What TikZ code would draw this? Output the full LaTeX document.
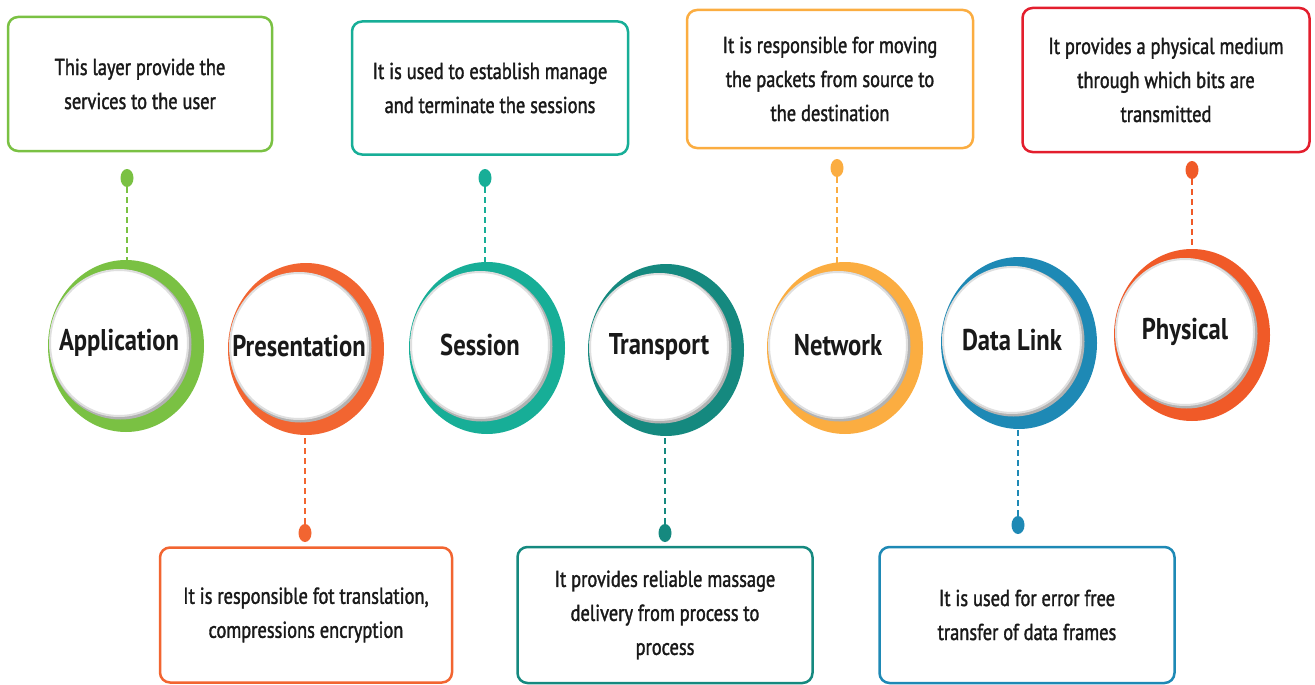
\documentclass[tikz,border=0pt]{standalone}
\usepackage{fontspec}
\setmainfont{PT Sans}[FakeStretch=0.82]
\newfontfamily\notefont{PT Sans}[FakeStretch=0.8, FakeBold=1.5]
\usetikzlibrary{positioning,shapes.geometric,backgrounds,calc}

\definecolor{appcol}{HTML}{7AC143}
\definecolor{precol}{HTML}{F26531}
\definecolor{sescol}{HTML}{17AE97}
\definecolor{tracol}{HTML}{15897F}
\definecolor{netcol}{HTML}{FBAD41}
\definecolor{dlcol}{HTML}{1E89B5}
\definecolor{phycol}{HTML}{F05A28}
\definecolor{phybox}{HTML}{E31E2D}

% coloured crescent and grey rim behind a layer disc
\newcommand{\ring}[2]{%
  \begin{scope}[on background layer]
    \fill[#2] ($(#1)+(7,3)$) ellipse [x radius=78, y radius=86];
    \fill[gray!60] ($(#1)+(1.5,1.5)$) ellipse [x radius=71, y radius=75];
  \end{scope}}

\tikzset{
  osi/.style={ellipse, minimum width=138pt, minimum height=146pt,
    inner xsep=-30pt, inner ysep=0pt,
    fill=white, draw=gray!25, line width=2pt, text=black!90,
    font=\fontsize{30}{32}\selectfont\bfseries},
  infobox/.style={draw=#1, line width=2.5pt, rounded corners=10pt, fill=white,
    align=center, text=black!90, font=\fontsize{23}{34}\notefont},
  knob/.style={ellipse, fill=#1, minimum width=13pt, minimum height=18pt, inner sep=0pt},
  dashlink/.style={draw=#1, line width=2.5pt, dash pattern=on 6pt off 4pt}
}

\begin{document}
\begin{tikzpicture}[x=1pt,y=-1pt]
  \useasboundingbox (0,0) rectangle (1315,685);

  % the seven layers
  \node[osi] (app) at (119,343) {Application};
  \node[osi] (pre) at (299,346) {Presentation};
  \node[osi] (ses) at (480,345) {Session};
  \node[osi] (tra) at (659,347) {Transport};
  \node[osi] (net) at (838,345) {Network};
  \node[osi] (dl) at (1012,340) {Data Link};
  \node[osi] (phy) at (1185,332) {Physical};

  % descriptions
  \node[infobox=appcol, minimum width=264pt, minimum height=134pt] (appnote) at (140,84)
    {This layer provide the\\services to the user};
  \node[infobox=sescol, minimum width=276pt, minimum height=133pt] (sesnote) at (490,88)
    {It is used to establish manage\\and terminate the sessions};
  \node[infobox=netcol, minimum width=286pt, minimum height=138pt] (netnote) at (830,79)
    {It is responsible for moving\\the packets from source to\\the destination};
  \node[infobox=phybox, minimum width=287pt, minimum height=144pt] (phynote) at (1166,80)
    {It provides a physical medium\\through which bits are\\transmitted};
  \node[infobox=precol, minimum width=292pt, minimum height=135pt] (prenote) at (306,615)
    {It is responsible fot translation,\\compressions encryption};
  \node[infobox=tracol, minimum width=295pt, minimum height=136pt] (tranote) at (665,615)
    {It provides reliable massage\\delivery from process to\\process};
  \node[infobox=dlcol, minimum width=295pt, minimum height=136pt] (dlnote) at (1027,615)
    {It is used for error free\\transfer of data frames};

  % pins
  \node[knob=appcol] (apppin) at (127,178) {};
  \node[knob=sescol] (sespin) at (485,178) {};
  \node[knob=netcol] (netpin) at (837,168) {};
  \node[knob=phycol] (phypin) at (1192,170) {};
  \node[knob=precol] (prepin) at (305,533) {};
  \node[knob=tracol] (trapin) at (665,533) {};
  \node[knob=dlcol] (dlpin) at (1018,525) {};

  \begin{scope}[on background layer]
    \draw[dashlink=appcol] (apppin) -- (apppin |- app.north);
    \draw[dashlink=sescol] (sespin) -- (sespin |- ses.north);
    \draw[dashlink=netcol] (netpin) -- (netpin |- net.north);
    \draw[dashlink=phycol] (phypin) -- (phypin |- phy.north);
    \draw[dashlink=precol] (prepin) -- (prepin |- pre.south);
    \draw[dashlink=tracol] (trapin) -- (trapin |- tra.south);
    \draw[dashlink=dlcol] (dlpin) -- (dlpin |- dl.south);
  \end{scope}

  \ring{app}{appcol}
  \ring{pre}{precol}
  \ring{ses}{sescol}
  \ring{tra}{tracol}
  \ring{net}{netcol}
  \ring{dl}{dlcol}
  \ring{phy}{phycol}
\end{tikzpicture}
\end{document}
